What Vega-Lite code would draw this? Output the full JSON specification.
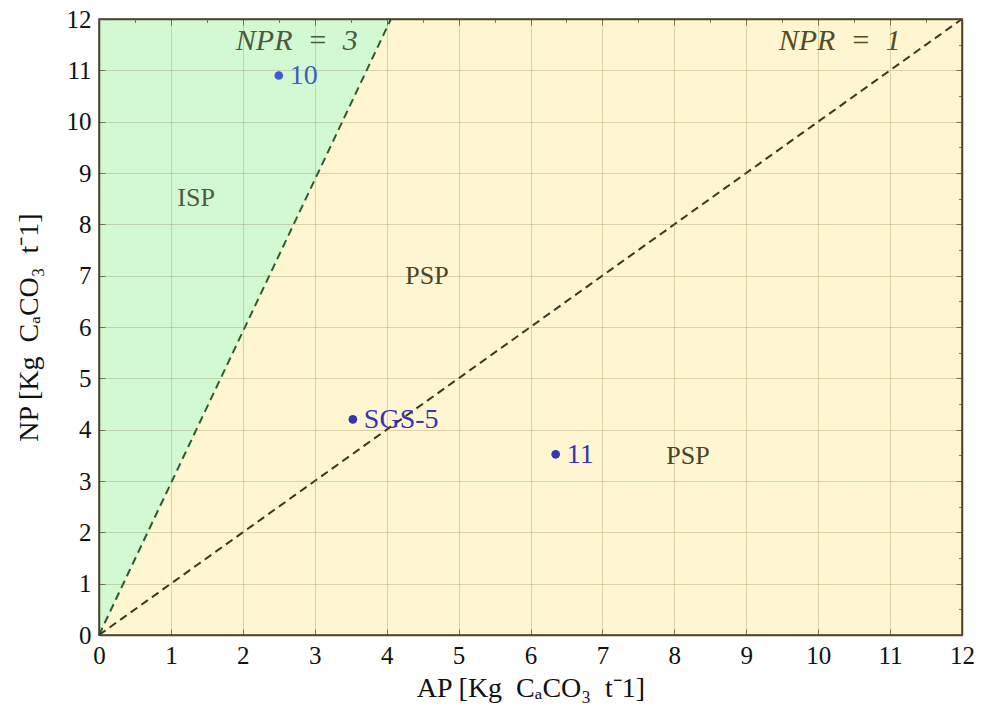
{
  "$schema": "https://vega.github.io/schema/vega-lite/v6.json",
  "autosize": "none",
  "width": 863,
  "height": 616,
  "padding": {"left": 99, "top": 19, "right": 19, "bottom": 78},
  "background": "white",
  "config": {
    "view": {"fill": "#fdf6d0", "stroke": "#4a4428", "strokeWidth": 1.5},
    "font": "Liberation Serif",
    "axis": {"labelFont": "Liberation Serif", "titleFont": "Liberation Serif"}
  },
  "datasets": {
    "isp": [
      {"ap": 0, "np": 0, "top": 12},
      {"ap": 4.06, "np": 12, "top": 12}
    ],
    "lines": [
      {"ap": 0, "np": 0, "line": "NPR3"},
      {"ap": 4.06, "np": 12, "line": "NPR3"},
      {"ap": 0, "np": 0, "line": "NPR1"},
      {"ap": 12, "np": 12, "line": "NPR1"}
    ],
    "samples": [
      {"ap": 2.5, "np": 10.9, "name": "10", "group": "a"},
      {"ap": 3.53, "np": 4.2, "name": " SGS-5", "group": "b"},
      {"ap": 6.35, "np": 3.52, "name": "11", "group": "b"}
    ],
    "regions": [
      {"ap": 1.35, "np": 8.51, "name": "ISP", "group": "isp"},
      {"ap": 4.56, "np": 6.99, "name": "PSP", "group": "psp"},
      {"ap": 8.19, "np": 3.49, "name": "PSP", "group": "psp"}
    ],
    "npr": [
      {"ap": 2.75, "np": 11.57, "name": "NPR\u2002=\u20023", "group": "n3"},
      {"ap": 10.3, "np": 11.58, "name": "NPR\u2002=\u20021", "group": "n1"}
    ]
  },
  "resolve": {
    "axis": {"x": "independent", "y": "independent"},
    "scale": {"color": "independent"}
  },
  "layer": [
    {
      "data": {"name": "isp"},
      "mark": {"type": "area", "color": "#d3f9d3", "opacity": 1},
      "encoding": {
        "x": {
          "field": "ap", "type": "quantitative",
          "scale": {"domain": [0, 12], "nice": false, "zero": false},
          "axis": {
            "orient": "bottom",
            "values": [0,0.5,1,1.5,2,2.5,3,3.5,4,4.5,5,5.5,6,6.5,7,7.5,8,8.5,9,9.5,10,10.5,11,11.5,12],
            "format": "d",
            "labelExpr": "datum.value % 1 === 0 ? format(datum.value, 'd') : ''",
            "labelOverlap": false,
            "labelFlush": false,
            "labelFont": "Liberation Serif",
            "labelFontSize": 25,
            "labelColor": "#111111",
            "labelPadding": 14,
            "grid": true,
            "gridColor": "#807040",
            "gridOpacity": {"condition": {"test": "datum.value % 1 === 0", "value": 0.27}, "value": 0.09},
            "gridWidth": 1,
            "ticks": true,
            "tickSize": {"condition": {"test": "datum.value % 1 === 0", "value": -6}, "value": -3.5},
            "tickColor": "#4a4a3a",
            "tickOpacity": 0.7,
            "domain": true,
            "domainColor": "#4a4428",
            "domainWidth": 1.5,
            "title": "AP [Kg\u2002CₐCO₃\u2002t⁻1]",
            "titleFont": "Liberation Serif",
            "titleFontSize": 28,
            "titleFontWeight": "normal",
            "titleColor": "#111111",
            "titlePadding": 6,
            "zindex": 1,
            "encode": {"labels": {"update": {"font": {"value": "Liberation Serif"}}}}
          }
        },
        "y": {
          "field": "np", "type": "quantitative",
          "scale": {"domain": [0, 12], "nice": false, "zero": false},
          "axis": {
            "orient": "left",
            "values": [0,0.5,1,1.5,2,2.5,3,3.5,4,4.5,5,5.5,6,6.5,7,7.5,8,8.5,9,9.5,10,10.5,11,11.5,12],
            "format": "d",
            "labelExpr": "datum.value % 1 === 0 ? format(datum.value, 'd') : ''",
            "labelOverlap": false,
            "labelFlush": false,
            "labelFont": "Liberation Serif",
            "labelFontSize": 25,
            "labelColor": "#111111",
            "labelPadding": 14,
            "grid": true,
            "gridColor": "#807040",
            "gridOpacity": {"condition": {"test": "datum.value % 1 === 0", "value": 0.27}, "value": 0.09},
            "gridWidth": 1,
            "ticks": true,
            "tickSize": {"condition": {"test": "datum.value % 1 === 0", "value": -6}, "value": -3.5},
            "tickColor": "#4a4a3a",
            "tickOpacity": 0.7,
            "domain": true,
            "domainColor": "#4a4428",
            "domainWidth": 1.5,
            "title": "NP [Kg\u2002CₐCO₃\u2002t⁻1]",
            "titleFont": "Liberation Serif",
            "titleFontSize": 28,
            "titleFontWeight": "normal",
            "titleColor": "#111111",
            "titlePadding": 23,
            "zindex": 1,
            "encode": {"labels": {"update": {"font": {"value": "Liberation Serif"}}}}
          }
        },
        "y2": {"field": "top"}
      }
    },
    {
      "data": {"name": "lines"},
      "mark": {"type": "line", "strokeDash": [8, 5], "strokeWidth": 2},
      "encoding": {
        "x": {"field": "ap", "type": "quantitative", "axis": null},
        "y": {"field": "np", "type": "quantitative", "axis": null},
        "detail": {"field": "line"},
        "color": {"field": "line", "type": "nominal", "legend": null,
          "scale": {"domain": ["NPR3", "NPR1"], "range": ["#2e5a32", "#3a3620"]}}
      }
    },
    {
      "data": {"name": "regions"},
      "mark": {"type": "text", "font": "Liberation Serif", "fontSize": 26, "align": "center", "baseline": "middle"},
      "encoding": {
        "x": {"field": "ap", "type": "quantitative", "axis": null},
        "y": {"field": "np", "type": "quantitative", "axis": null},
        "text": {"field": "name"},
        "color": {"field": "group", "type": "nominal", "legend": null,
          "scale": {"domain": ["isp", "psp"], "range": ["#4b5b44", "#4a4326"]}}
      }
    },
    {
      "data": {"name": "npr"},
      "mark": {"type": "text", "font": "Liberation Serif", "fontStyle": "italic", "fontSize": 30, "align": "center", "baseline": "middle"},
      "encoding": {
        "x": {"field": "ap", "type": "quantitative", "axis": null},
        "y": {"field": "np", "type": "quantitative", "axis": null},
        "text": {"field": "name"},
        "color": {"field": "group", "type": "nominal", "legend": null,
          "scale": {"domain": ["n3", "n1"], "range": ["#4a5a3e", "#574a1e"]}}
      }
    },
    {
      "data": {"name": "samples"},
      "mark": {"type": "text", "font": "Liberation Serif", "fontSize": 28, "align": "left", "baseline": "middle", "dx": 11, "dy": 1},
      "encoding": {
        "x": {"field": "ap", "type": "quantitative", "axis": null},
        "y": {"field": "np", "type": "quantitative", "axis": null},
        "text": {"field": "name"},
        "color": {"field": "group", "type": "nominal", "legend": null,
          "scale": {"domain": ["a", "b"], "range": ["#3b5bd0", "#3434b4"]}}
      }
    },
    {
      "data": {"name": "samples"},
      "mark": {"type": "circle", "size": 75, "opacity": 1},
      "encoding": {
        "x": {
          "field": "ap", "type": "quantitative",
          "axis": {
            "orient": "top",
            "values": [0,0.5,1,1.5,2,2.5,3,3.5,4,4.5,5,5.5,6,6.5,7,7.5,8,8.5,9,9.5,10,10.5,11,11.5,12],
            "labels": false,
            "grid": false,
            "ticks": true,
            "tickSize": {"condition": {"test": "datum.value % 1 === 0", "value": -6}, "value": -3.5},
            "tickColor": "#4a4a3a",
            "tickOpacity": 0.7,
            "domain": true,
            "domainColor": "#4a4428",
            "domainWidth": 1.5,
            "title": null,
            "zindex": 1
          }
        },
        "y": {
          "field": "np", "type": "quantitative",
          "axis": {
            "orient": "right",
            "values": [0,0.5,1,1.5,2,2.5,3,3.5,4,4.5,5,5.5,6,6.5,7,7.5,8,8.5,9,9.5,10,10.5,11,11.5,12],
            "labels": false,
            "grid": false,
            "ticks": true,
            "tickSize": {"condition": {"test": "datum.value % 1 === 0", "value": -6}, "value": -3.5},
            "tickColor": "#4a4a3a",
            "tickOpacity": 0.7,
            "domain": true,
            "domainColor": "#4a4428",
            "domainWidth": 1.5,
            "title": null,
            "zindex": 1
          }
        },
        "color": {"field": "group", "type": "nominal", "legend": null,
          "scale": {"domain": ["a", "b"], "range": ["#3b5bd0", "#3434b4"]}}
      }
    }
  ]
}
